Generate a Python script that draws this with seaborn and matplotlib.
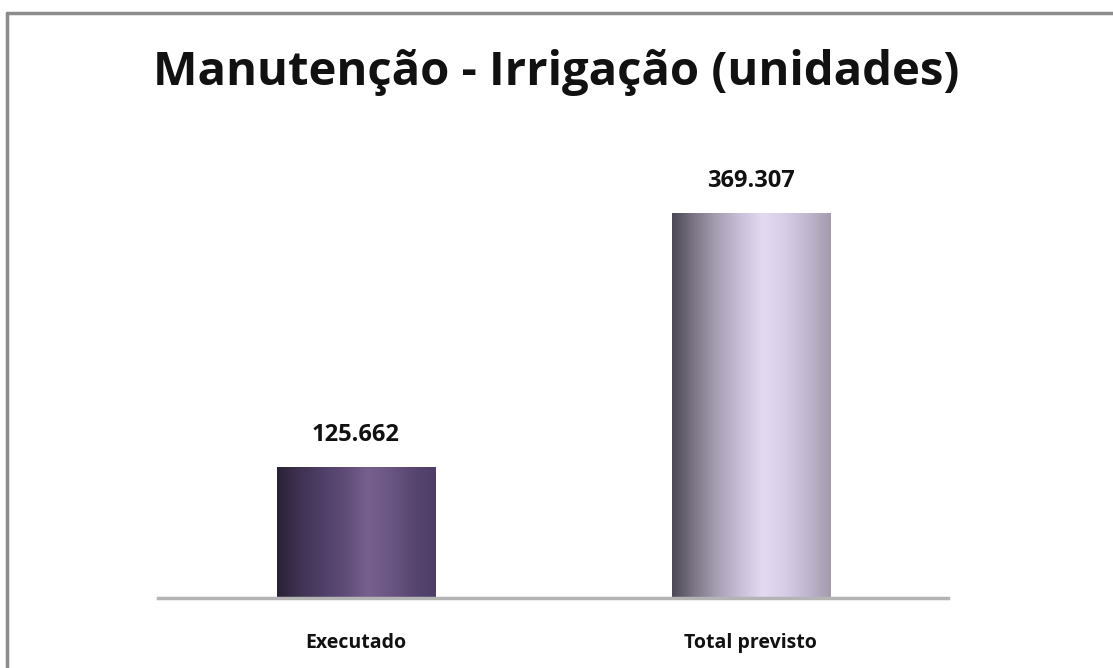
import numpy as np
import matplotlib
matplotlib.use("Agg")
import matplotlib.pyplot as plt
from matplotlib.colors import LinearSegmentedColormap
from matplotlib.lines import Line2D
import seaborn as sns

categories = ["Executado", "Total previsto"]
values = [125.662, 369.307]
value_labels = ["125.662", "369.307"]
title = "Manutenção - Irrigação (unidades)"

# cylinder-like shading for each bar (left -> right)
bar_gradients = [
    ["#2a2135", "#3f3252", "#4f3f66", "#5f4c78", "#77608f", "#6a5683", "#584670", "#4e3d66"],
    ["#4c4854", "#7d7787", "#a8a0b4", "#c9bed8", "#e3dbf2", "#d7cde6", "#c0b5cf", "#a39bad"],
]

sns.set_theme(style="white")
plt.rcParams["font.family"] = ["Open Sans", "DejaVu Sans"]

fig = plt.figure(figsize=(11.13, 6.68), dpi=100)
ax = fig.add_axes([0.142, 0.1048, 0.7098, 0.6711])

sns.barplot(x=categories, y=values, ax=ax, width=0.4, color="#5f4c78")
ax.set_ylim(0, 430)

for patch, cols, lab in zip(ax.patches, bar_gradients, value_labels):
    x0, y0 = patch.get_x(), patch.get_y()
    w, h = patch.get_width(), patch.get_height()
    patch.set_facecolor("none")
    patch.set_edgecolor("none")
    cmap = LinearSegmentedColormap.from_list("g", cols)
    grad = np.linspace(0, 1, 256).reshape(1, -1)
    im = ax.imshow(grad, cmap=cmap, aspect="auto", extent=[x0, x0 + w, y0, y0 + h],
                   zorder=2, interpolation="bicubic")
    im.set_clip_path(patch)
    ax.text(x0 + w / 2, y0 + h + 31, lab, ha="center", va="center",
            fontsize=17, fontweight="bold", color="#111111")

ax.set_xlim(-0.5, 1.5)
ax.set_xlabel("")
ax.set_ylabel("")
ax.set_yticks([])
for s in ["top", "right", "left"]:
    ax.spines[s].set_visible(False)
ax.spines["bottom"].set_color("#b4b4b4")
ax.spines["bottom"].set_linewidth(2.5)
ax.tick_params(axis="x", length=0, pad=25)
for t in ax.get_xticklabels():
    t.set_fontweight("bold")
    t.set_fontsize(14)
    t.set_color("#111111")

fig.text(0.5, 0.892, title, ha="center", va="center", fontsize=34,
         fontweight="bold", color="#111111")

# outer frame (top and left edges visible)
fig.add_artist(Line2D([7 / 1113, 1], [1 - 13 / 668, 1 - 13 / 668], color="#8c8c8c", lw=2.5))
fig.add_artist(Line2D([7 / 1113, 7 / 1113], [0, 1 - 13 / 668], color="#8c8c8c", lw=2.5))

fig.savefig("out.png", dpi=100)
